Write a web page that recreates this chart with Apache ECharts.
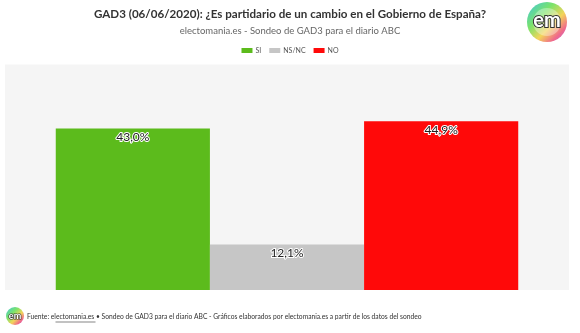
<!DOCTYPE html>
<html><head><meta charset="utf-8">
<script src="https://cdn.jsdelivr.net/npm/echarts@6/dist/echarts.min.js"></script>
<style>html,body{margin:0;padding:0;background:#fff}#c{width:580px;height:333px}</style>
</head><body><div id="c"></div>
<script>
const titleText = 'GAD3 (06/06/2020): ¿Es partidario de un cambio en el Gobierno de España?';
const subtitleText = 'electomania.es - Sondeo de GAD3 para el diario ABC';
const categories = ['GAD3'];
const seriesNames = ['SI', 'NS/NC', 'NO'];
const seriesValues = [43.0, 12.1, 44.9];
const seriesColors = ['#5cbb1c', '#c6c6c6', '#ff0909'];
const yMax = 60;

const chart = echarts.init(document.getElementById('c'), null, {renderer: 'canvas'});
const F = 'Lato, "Open Sans", sans-serif';
const grad = {type: 'linear', x: 0, y: 0, x2: 1, y2: 1, colorStops: [
  {offset: 0, color: '#3ec6e0'}, {offset: 0.35, color: '#7be36a'}, {offset: 0.6, color: '#f3d45a'}, {offset: 0.8, color: '#f06a8a'}, {offset: 1, color: '#b65ce0'}]};
chart.setOption({
  animation: false,
  backgroundColor: '#ffffff',
  title: {
    text: titleText, subtext: subtitleText, left: 'center', top: 3, itemGap: 6,
    textStyle: {fontFamily: F, fontSize: 11.6, fontWeight: 'bold', color: '#333'},
    subtextStyle: {fontFamily: F, fontSize: 9.5, color: '#666'}
  },
  legend: {
    top: 42, left: 'center', itemWidth: 11, itemHeight: 5, itemGap: 8,
    icon: 'rect',
    textStyle: {fontFamily: F, fontSize: 7, color: '#555', padding: [0,0,0,-2]},
    data: seriesNames
  },
  grid: {left: 5, right: 11, top: 64.5, bottom: 43, show: true, backgroundColor: '#f5f5f5', borderWidth: 0},
  xAxis: {type: 'category', data: categories, show: false},
  yAxis: {type: 'value', min: 0, max: yMax, show: false, splitLine: {show: false}},
  series: seriesNames.map((n, i) => ({
    name: n, type: 'bar', data: [seriesValues[i]], barGap: '0%', barCategoryGap: '18%',
    itemStyle: {color: seriesColors[i]},
    label: {show: true, position: 'insideTop', distance: 3,
      formatter: p => p.value.toFixed(1).replace('.', ',') + '%',
      fontFamily: F, fontSize: 12, color: '#222', textBorderColor: '#fff', textBorderWidth: 2}
  })),
  graphic: [
    {type: 'group', left: 527, top: 2, children: [
      {type: 'circle', shape: {cx: 20, cy: 20, r: 20}, style: {fill: grad}},
      {type: 'circle', shape: {cx: 20, cy: 20, r: 14}, style: {fill: 'rgba(255,255,255,0.35)'}},
      {type: 'text', style: {x: 20, y: 19, text: 'em', align: 'center', verticalAlign: 'middle', fontFamily: F, fontWeight: 'bold', fontSize: 20, fill: '#fff', stroke: '#333', lineWidth: 2}}
    ]},
    {type: 'group', left: 6, top: 307, children: [
      {type: 'circle', shape: {cx: 9, cy: 9, r: 9}, style: {fill: grad}},
      {type: 'text', style: {x: 9, y: 9, text: 'em', align: 'center', verticalAlign: 'middle', fontFamily: F, fontWeight: 'bold', fontSize: 9, fill: '#fff', stroke: '#333', lineWidth: 1.2}}
    ]},
    {type: 'text', left: 27, top: 313, style: {text: 'Fuente: electomania.es • Sondeo de GAD3 para el diario ABC - Gráficos elaborados por electomania.es a partir de los datos del sondeo',
      fontFamily: F, fontSize: 6.7, fill: '#333'}},
    {type: 'line', left: 53, top: 319.5, shape: {x1: 0, y1: 0, x2: 40, y2: 0}, style: {stroke: '#333', lineWidth: 0.6}}
  ]
});
</script></body></html>
